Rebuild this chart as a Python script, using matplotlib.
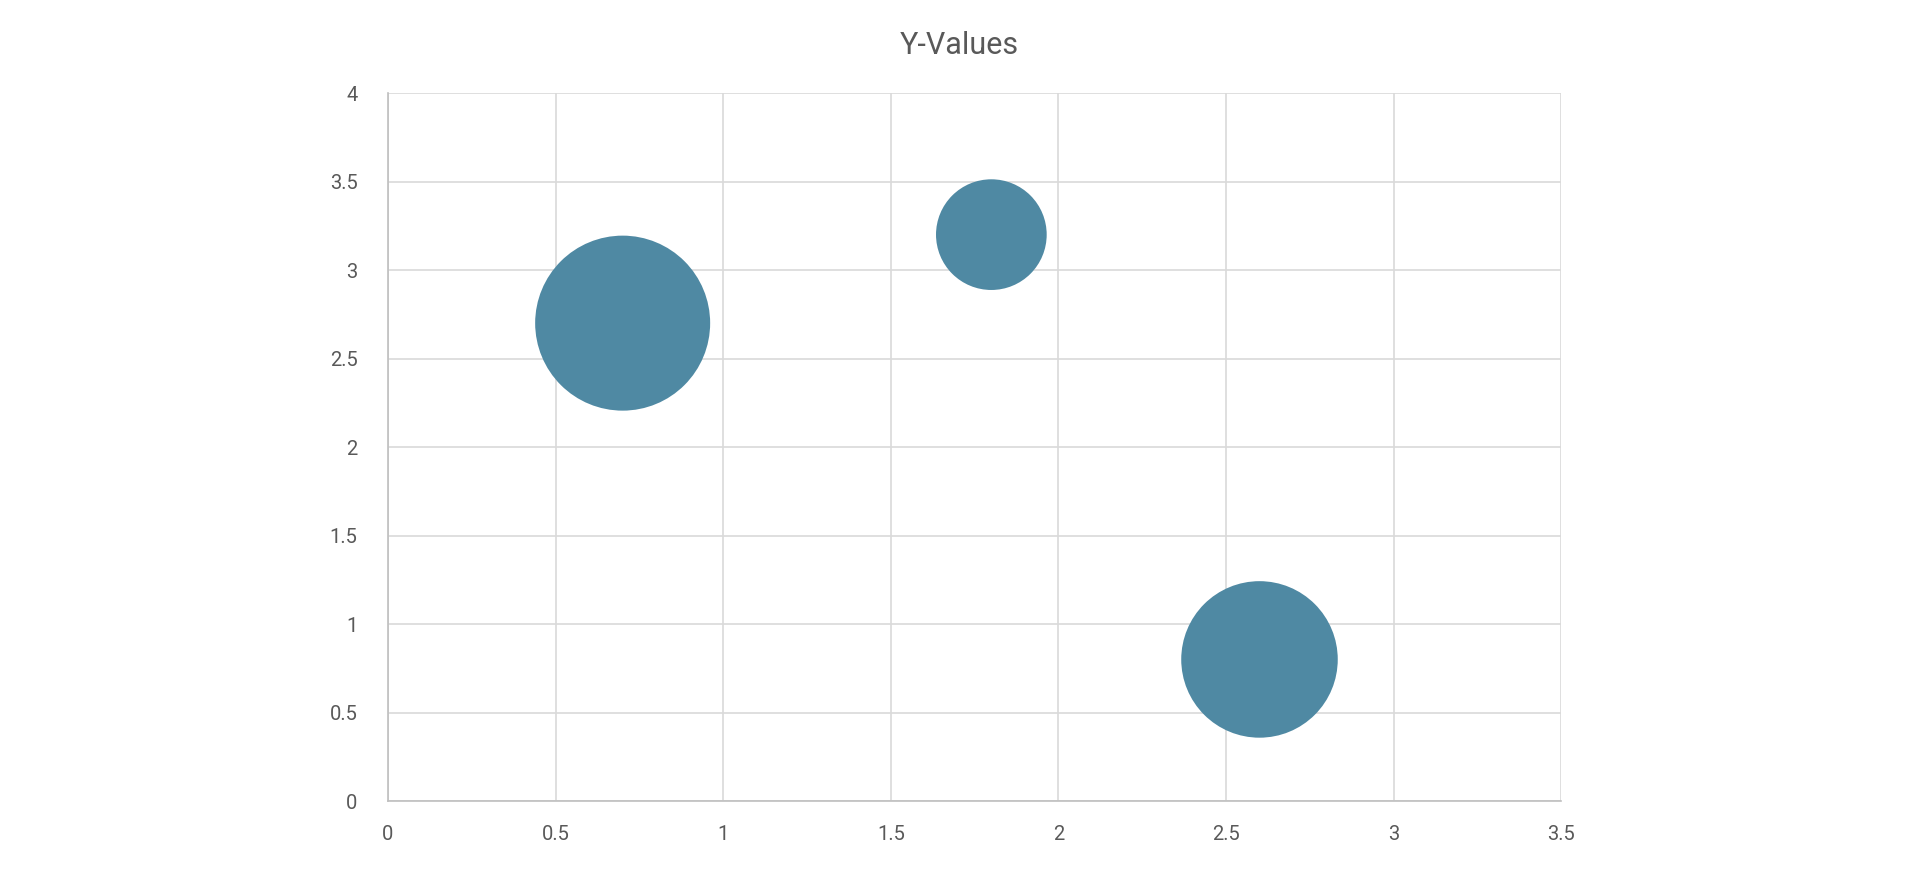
import numpy as np
import matplotlib.pyplot as plt

x_values = [0.7, 1.8, 2.6]
y_values = [2.7, 3.2, 0.8]
bubble_sizes = [5, 2, 4]

x_ticks = [0, 0.5, 1, 1.5, 2, 2.5, 3, 3.5]
y_ticks = [0, 0.5, 1, 1.5, 2, 2.5, 3, 3.5, 4]

plt.rcParams['font.family'] = ['Roboto', 'DejaVu Sans']

dpi = 100
fig = plt.figure(figsize=(19.2, 8.72), dpi=dpi)
ax = fig.add_axes([0.2021, 0.0814, 0.611, 0.8119])

# excel scales bubble area by size; biggest bubble ~175 px across
sizes = np.array(bubble_sizes, dtype=float)
diam_px = 175 * np.sqrt(sizes / sizes.max())
s = (diam_px * 72 / dpi) ** 2
ax.scatter(x_values, y_values, s=s, color='#4F89A3', linewidths=0, zorder=3)

ax.set_xlim(0, 3.5)
ax.set_ylim(0, 4)
ax.set_xticks(x_ticks)
ax.set_yticks(y_ticks)
ax.set_xticklabels([f'{t:g}' for t in x_ticks])
ax.set_yticklabels([f'{t:g}' for t in y_ticks])

ax.grid(True, color='#D9D9D9', linewidth=1.2, zorder=0)
ax.set_axisbelow(True)
for side in ['top', 'right']:
    ax.spines[side].set_visible(False)
for side in ['left', 'bottom']:
    ax.spines[side].set_color('#BFBFBF')
    ax.spines[side].set_linewidth(1.2)

ax.tick_params(axis='both', length=0, labelsize=14.5, labelcolor='#595959')
ax.tick_params(axis='x', pad=17)
ax.tick_params(axis='y', pad=22)

fig.text(0.4995, 0.948, 'Y-Values', ha='center', va='center', fontsize=22, color='#595959')

fig.savefig('out.png', dpi=dpi)
